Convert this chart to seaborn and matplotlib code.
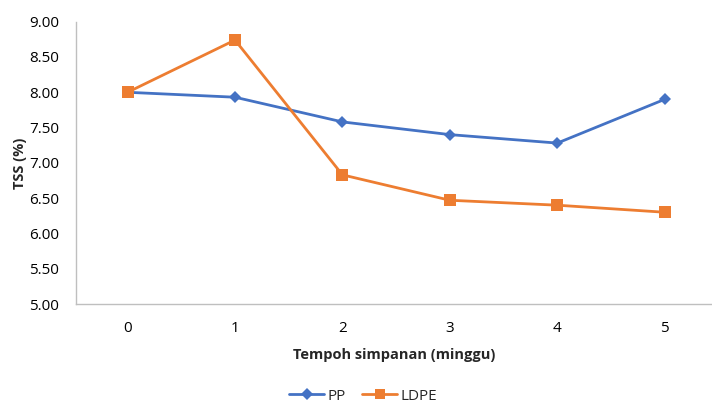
import matplotlib
matplotlib.use("Agg")
import matplotlib.pyplot as plt
import seaborn as sns
import pandas as pd

weeks = [0, 1, 2, 3, 4, 5]
pp = [8.00, 7.93, 7.58, 7.40, 7.28, 7.90]
ldpe = [8.00, 8.74, 6.83, 6.47, 6.40, 6.30]
y_ticks = [5.00, 5.50, 6.00, 6.50, 7.00, 7.50, 8.00, 8.50, 9.00]

df = pd.DataFrame({
    "week": weeks * 2,
    "tss": pp + ldpe,
    "pkg": ["PP"] * len(weeks) + ["LDPE"] * len(weeks),
})

sns.set_theme(style="white")
plt.rcParams['font.family'] = ['Open Sans', 'DejaVu Sans']

fig = plt.figure(figsize=(7.12, 4.04), dpi=100)
ax = fig.add_axes([76/712, 1 - 304/404, 1 - 76/712, (304 - 21.7)/404])

sns.lineplot(data=df, x="week", y="tss", hue="pkg", style="pkg",
             palette={"PP": "#4472C4", "LDPE": "#ED7D31"},
             markers={"PP": "D", "LDPE": "s"}, dashes=False,
             markersize=7, linewidth=2, markeredgewidth=0, ax=ax, legend=False)
for line, ms in zip(ax.lines, [6, 8]):
    line.set_markersize(ms)

ax.set_xlim(-0.48, 5.44)
ax.set_ylim(5.0, 9.0)
ax.set_xticks(weeks)
ax.set_xticklabels([str(w) for w in weeks])
ax.set_yticks(y_ticks)
ax.set_yticklabels([f"{v:.2f}" for v in y_ticks])
ax.tick_params(axis='both', labelsize=11, colors='#000000', length=0, pad=12)
ax.tick_params(axis='x', pad=12)
for s in ["top", "right"]:
    ax.spines[s].set_visible(False)
for s in ["left", "bottom"]:
    ax.spines[s].set_color("#BFBFBF")
    ax.spines[s].set_linewidth(1)

ax.set_xlabel("Tempoh simpanan (minggu)", fontsize=10.5, fontweight="bold", labelpad=9)
ax.set_ylabel("TSS (%)", fontsize=10.5, fontweight="bold", labelpad=2)

from matplotlib.lines import Line2D
handles = [
    Line2D([], [], color="#4472C4", marker="D", markersize=6, linewidth=2, markeredgewidth=0),
    Line2D([], [], color="#ED7D31", marker="s", markersize=7, linewidth=2, markeredgewidth=0),
]
fig.legend(handles, ["PP", "LDPE"], loc="center", bbox_to_anchor=(0.51, 1 - 396/404),
           ncol=2, frameon=False, fontsize=11, handlelength=2.3, columnspacing=1.1,
           handletextpad=0.2)

fig.savefig("out.png", dpi=100)
